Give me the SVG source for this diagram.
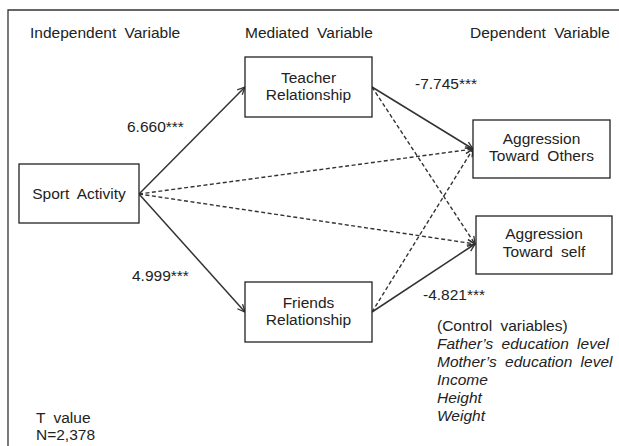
<svg xmlns="http://www.w3.org/2000/svg" width="619" height="446" viewBox="0 0 619 446">
<defs>
<marker id="arr" markerWidth="10" markerHeight="10" refX="9" refY="5" orient="auto" markerUnits="userSpaceOnUse">
<path d="M1.5,1.5 L9,5 L1.5,8.5" fill="none" stroke="#333" stroke-width="1.3"/>
</marker>
</defs>
<style>
.box{fill:#fff;stroke:#222;stroke-width:1.3}
.t{font-family:"Liberation Sans",Arial,sans-serif;font-size:15.5px;fill:#222;word-spacing:4px}
.c{text-anchor:middle}
.solid{stroke:#333;stroke-width:1.5;fill:none}
.dash{stroke:#333;stroke-width:1.4;stroke-dasharray:4 2.5;fill:none}
.i{font-style:italic}
</style>
<rect width="619" height="446" fill="#fff"/>
<path d="M8,446 L8,10 L619,10" fill="none" stroke="#333" stroke-width="1.3"/>
<g id="headers">
<text class="t" x="30" y="38">Independent Variable</text>
<text class="t" x="245" y="38">Mediated Variable</text>
<text class="t" x="470" y="38">Dependent Variable</text>
</g>
<g id="connectors">
<line class="solid" x1="139" y1="194" x2="245" y2="87" marker-end="url(#arr)"/>
<line class="solid" x1="139" y1="194" x2="245" y2="312" marker-end="url(#arr)"/>
<line class="dash" x1="139" y1="194" x2="473" y2="149" marker-end="url(#arr)"/>
<line class="dash" x1="139" y1="194" x2="475" y2="244" marker-end="url(#arr)"/>
<line class="solid" x1="372" y1="87" x2="473" y2="149" marker-end="url(#arr)"/>
<line class="dash" x1="372" y1="87" x2="475" y2="244" marker-end="url(#arr)"/>
<line class="dash" x1="372" y1="312" x2="473" y2="149" marker-end="url(#arr)"/>
<line class="solid" x1="372" y1="312" x2="475" y2="244" marker-end="url(#arr)"/>
</g>
<g id="labels">
<text class="t" x="127" y="132">6.660***</text>
<text class="t" x="132" y="281">4.999***</text>
<text class="t" x="415" y="89">-7.745***</text>
<text class="t" x="423" y="300">-4.821***</text>
</g>
<g id="sport">
<rect class="box" x="19" y="164" width="120" height="59"/>
<text class="t c" x="79" y="199">Sport Activity</text>
</g>
<g id="teacher">
<rect class="box" x="245" y="57" width="127" height="60"/>
<text class="t c" x="308.5" y="83">Teacher</text>
<text class="t c" x="308.5" y="100">Relationship</text>
</g>
<g id="friends">
<rect class="box" x="245" y="282" width="127" height="60"/>
<text class="t c" x="308.5" y="308">Friends</text>
<text class="t c" x="308.5" y="325">Relationship</text>
</g>
<g id="others">
<rect class="box" x="473" y="120" width="137" height="58"/>
<text class="t c" x="541.5" y="144">Aggression</text>
<text class="t c" x="541.5" y="161">Toward Others</text>
</g>
<g id="self">
<rect class="box" x="476" y="216" width="136" height="58"/>
<text class="t c" x="544" y="239">Aggression</text>
<text class="t c" x="544" y="257">Toward self</text>
</g>
<g id="controls">
<text class="t" x="437" y="331">(Control variables)</text>
<text class="t i" x="437" y="349">Father’s education level</text>
<text class="t i" x="437" y="367">Mother’s education level</text>
<text class="t i" x="437" y="385">Income</text>
<text class="t i" x="437" y="403">Height</text>
<text class="t i" x="437" y="421">Weight</text>
</g>
<g id="notes">
<text class="t" x="36" y="423">T value</text>
<text class="t" x="36" y="440">N=2,378</text>
</g>
</svg>
